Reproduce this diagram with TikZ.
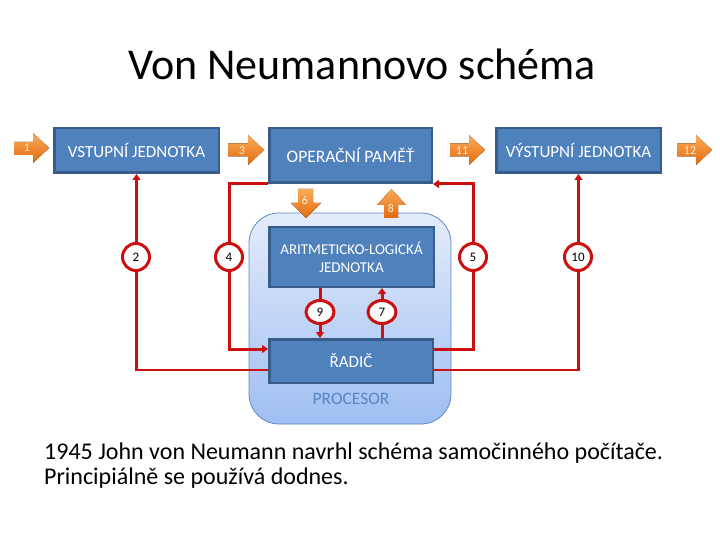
\documentclass[tikz,border=0pt]{standalone}
\usepackage{fontspec}
\setmainfont{Carlito}
\usetikzlibrary{arrows.meta,calc,shapes.geometric}
\definecolor{boxfill}{RGB}{79,129,189}
\definecolor{boxline}{RGB}{56,93,138}
\definecolor{conn}{RGB}{204,16,16}
\definecolor{orlight}{RGB}{250,172,92}
\definecolor{ordark}{RGB}{226,106,12}
\definecolor{proctop}{RGB}{228,236,250}
\definecolor{procbot}{RGB}{158,190,242}
\definecolor{procline}{RGB}{96,136,196}
\definecolor{proctext}{RGB}{88,134,196}
\definecolor{numtext}{RGB}{255,238,215}
\begin{document}
\begin{tikzpicture}[x=1pt,y=-1pt,
  unit/.style={draw=boxline,line width=2.5pt,fill=boxfill,text=white,inner sep=0pt,
    font=\fontsize{17}{20}\selectfont,align=center},
  orarrow/.style={top color=orlight,bottom color=ordark,draw=none},
  ornum/.style={text=numtext,font=\fontsize{12}{13}\selectfont,inner sep=0pt},
  link/.style={draw=conn,line width=3pt},
  thinlink/.style={draw=conn,line width=2.4pt},
  tip/.style={-{Triangle[length=6pt,width=8pt]}},
  tag/.style={circle,draw=conn,line width=3pt,fill=white,minimum size=27pt,inner sep=0pt,
    font=\fontsize{13}{14}\selectfont},
  etag/.style={tag,ellipse,minimum width=28pt,minimum height=23pt},
]
\useasboundingbox (0,0) rectangle (720,540);
\fill[white] (0,0) rectangle (720,540);

% title
\node[anchor=base,font=\fontsize{44}{52}\selectfont] (title) at (362,80) {Von Neumannovo schéma};

% processor container
\node[draw=procline,line width=0.8pt,top color=proctop,bottom color=procbot,
  rounded corners=30pt,minimum width=202pt,minimum height=211pt] (proc) at (350,318.5) {};
\node[text=proctext,font=\fontsize{17.5}{20}\selectfont] (proclabel) at (351,399) {PROCESOR};

% units
\node[unit,minimum width=164.5pt,minimum height=44.5pt] (vstup) at (136.5,150.5) {VSTUPNÍ JEDNOTKA};
\node[unit,minimum width=162.5pt,minimum height=54.5pt,font=\fontsize{17.5}{20}\selectfont] (oper) at (350.5,155.5) {OPERAČNÍ PAMĚŤ};
\node[unit,minimum width=164.5pt,minimum height=44.5pt] (vystup) at (578.5,150.5) {VÝSTUPNÍ JEDNOTKA};
\node[unit,minimum width=164.5pt,minimum height=59.5pt,font=\fontsize{15}{18}\selectfont] (alu) at (351.5,257) {ARITMETICKO-LOGICKÁ\\JEDNOTKA};
\node[unit,minimum width=163.5pt,minimum height=43.5pt] (radic) at (351,361) {ŘADIČ};

% orange arrows
\fill[orarrow] (14,142) -- (33,142) -- (33,133) -- (49,148) -- (33,163) -- (33,155) -- (14,155) -- cycle;
\node[ornum] (n1) at (27,148) {1};
\fill[orarrow] (228,143.5) -- (248,143.5) -- (248,135) -- (264,150) -- (248,165) -- (248,156.5) -- (228,156.5) -- cycle;
\node[ornum] (n3) at (242,151) {3};
\fill[orarrow] (450,143.5) -- (469,143.5) -- (469,135) -- (485,150) -- (469,165) -- (469,156.5) -- (450,156.5) -- cycle;
\node[ornum] (n11) at (462,151) {11};
\fill[orarrow] (677,143.5) -- (696,143.5) -- (696,135) -- (712,150) -- (696,165) -- (696,156.5) -- (677,156.5) -- cycle;
\node[ornum] (n12) at (690,151) {12};
\fill[orarrow] (298,189) -- (313,189) -- (313,203) -- (321,203) -- (306,218) -- (291,203) -- (298,203) -- cycle;
\node[ornum] (n6) at (305,200) {6};
\fill[orarrow] (391.5,189) -- (406,205) -- (398,205) -- (398,218) -- (384,218) -- (384,205) -- (377,205) -- cycle;
\node[ornum] (n8) at (391,208) {8};

% connector anchors
\coordinate (k4) at (229,349);
\coordinate (k5) at (473,349);
\coordinate (x9) at (320,312);
\coordinate (x7) at (382,312);

% red connectors
\draw[thinlink,tip] ([yshift=-9pt]radic.west) -| (vstup.south);
\draw[thinlink,tip] ([yshift=-9pt]radic.east) -| (vystup.south);
\draw[link,tip] (oper.south west) -| (k4) -- (k4 -| radic.west);
\draw[link,tip] (k5 -| radic.east) -- (k5) |- (oper.south east);
\draw[link,tip] (alu.south -| x9) -- (radic.north -| x9);
\draw[link,tip] (radic.north -| x7) -- (alu.south -| x7);

% numbered tags
\node[tag] (c2) at (136,257) {2};
\node[tag] (c4) at (229,257) {4};
\node[tag] (c5) at (473,257) {5};
\node[tag] (c10) at (578,257) {10};
\node[etag] (c9) at (x9) {9};
\node[etag] (c7) at (x7) {7};

% bottom text
\node[anchor=base west,inner sep=0pt,font=\fontsize{24}{26}\selectfont] (line1) at (44,459) {1945 John von Neumann navrhl schéma samočinného počítače.};
\node[anchor=base west,inner sep=0pt,font=\fontsize{24}{26}\selectfont] (line2) at (44,484) {Principiálně se používá dodnes.};
\end{tikzpicture}
\end{document}
